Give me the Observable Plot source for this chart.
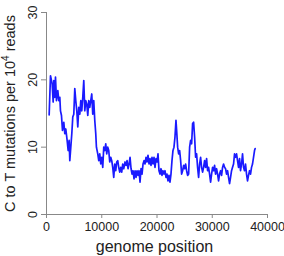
<!DOCTYPE html>
<html>
<head>
<meta charset="utf-8">
<script src="https://cdn.jsdelivr.net/npm/d3@7"></script>
<script src="https://cdn.jsdelivr.net/npm/@observablehq/plot@0.6"></script>
<style>
  html, body { margin: 0; padding: 0; background: #fff; }
  svg { font-family: "Liberation Sans", Arial, sans-serif; }
</style>
</head>
<body>
<div id="chart"></div>
<script>
const xTicks = [0, 10000, 20000, 30000, 40000];
const yTicks = [0, 10, 20, 30];
const xLabel = "genome position";
const yLabel = "C to T mutations per 10⁴ reads";

const position = [
  482, 723, 1024, 1205, 1325, 1506, 1627, 1807, 2048, 2229, 2410, 2530, 2711, 2892, 3133, 3313, 3494, 3735, 3916, 4096,
  4217, 4398, 4578, 4759, 4940, 5120, 5301, 5482, 5663, 5843, 6024, 6205, 6386, 6566, 6747, 6928, 7108, 7289, 7470, 7651,
  7831, 8012, 8193, 8373, 8554, 8735, 8916, 9036, 9277, 9458, 9638, 9819, 10000, 10181, 10361, 10542, 10723, 10904, 11084, 11265,
  11446, 11627, 11807, 11988, 12169, 12349, 12530, 12711, 12892, 13072, 13253, 13434, 13614, 13795, 13976, 14217, 14398, 14578, 14759, 14940,
  15120, 15301, 15482, 15663, 15843, 16024, 16205, 16386, 16566, 16747, 16928, 17108, 17289, 17470, 17651, 17831, 18012, 18193, 18373, 18554,
  18735, 18916, 19096, 19277, 19458, 19639, 19819, 20000, 20181, 20361, 20542, 20723, 20904, 21084, 21265, 21446, 21627, 21807, 21988, 22169,
  22349, 22530, 22711, 22892, 23072, 23253, 23434, 23554, 23735, 23916, 24096, 24277, 24458, 24639, 24819, 25000, 25181, 25361, 25542, 25723,
  25904, 26084, 26265, 26446, 26627, 26807, 26988, 27169, 27349, 27530, 27711, 27892, 28072, 28253, 28434, 28614, 28795, 28976, 29157, 29337,
  29518, 29699, 29880, 30060, 30241, 30422, 30602, 30783, 30964, 31145, 31325, 31506, 31687, 31867, 32048, 32229, 32410, 32590, 32771, 32952,
  33133, 33313, 33494, 33675, 33855, 34036, 34217, 34398, 34578, 34759, 34940, 35120, 35301, 35482, 35663, 35843, 36024, 36205, 36386, 36566,
  36747, 36928, 37108, 37289, 37470, 37651, 37771
];
const mutations = [
  14.8, 20.6, 19.4, 16.7, 19.9, 17.4, 20.4, 16.9, 18.4, 16.9, 17.4, 15.4, 14.7, 12.5, 13.7, 12.0, 12.7, 11.0, 9.5, 11.0,
  8.0, 10.0, 12.0, 14.5, 14.9, 18.7, 16.9, 15.4, 13.0, 15.9, 14.9, 16.9, 15.4, 17.4, 19.9, 15.4, 16.9, 16.4, 14.7, 16.9,
  15.9, 16.9, 17.9, 14.9, 16.9, 14.0, 12.0, 10.0, 9.0, 8.0, 9.0, 7.5, 8.5, 7.0, 10.0, 9.5, 10.5, 9.0, 10.0, 9.5,
  7.8, 8.5, 8.0, 7.0, 5.5, 7.5, 6.5, 7.8, 8.0, 7.0, 6.3, 7.0, 6.3, 7.5, 6.8, 7.8, 7.3, 8.0, 6.8, 7.5,
  8.5, 6.8, 6.0, 6.5, 5.3, 6.5, 5.5, 6.5, 5.8, 6.5, 4.8, 6.8, 6.0, 7.5, 8.0, 7.5, 8.5, 7.8, 8.8, 7.5,
  8.3, 7.3, 8.5, 7.5, 8.5, 7.0, 8.3, 7.8, 9.0, 6.5, 6.0, 6.8, 5.8, 6.5, 6.0, 6.5, 5.5, 6.0, 5.0, 5.8,
  4.8, 6.0, 8.0, 9.5, 10.0, 11.5, 14.0, 12.5, 10.0, 9.0, 9.5, 8.0, 6.0, 6.5, 7.3, 6.8, 7.5, 6.5, 5.8, 6.0,
  10.0, 11.0, 10.5, 13.5, 13.7, 11.5, 8.5, 9.0, 7.0, 5.5, 7.5, 8.5, 7.0, 6.3, 7.0, 8.0, 7.0, 8.3, 6.5, 7.0,
  6.0, 4.8, 6.0, 7.0, 6.5, 7.3, 6.0, 6.8, 6.0, 5.0, 6.0, 6.5, 5.8, 7.0, 7.5, 7.0, 6.8, 6.0, 6.5, 5.5,
  4.6, 5.5, 6.5, 7.0, 7.5, 9.0, 8.5, 9.0, 8.0, 7.0, 8.3, 6.5, 7.5, 9.0, 7.0, 6.5, 7.5, 6.0, 5.0, 5.8,
  6.5, 6.0, 7.0, 7.5, 8.5, 9.5, 9.8
];

const data = position.map((p, i) => ({position: p, value: mutations[i]}));
const axisColor = "#888";
const textColor = "#222";

const chart = Plot.plot({
  width: 284,
  height: 256,
  marginLeft: 46,
  marginRight: 17,
  marginTop: 12,
  marginBottom: 42,
  style: {fontFamily: '"Liberation Sans", Arial, sans-serif', background: "#fff", color: textColor},
  x: {domain: [0, 40000]},
  y: {domain: [0, 30]},
  marks: [
    Plot.axisX({ticks: xTicks, tickSize: 4, tickFormat: () => "", label: null, stroke: axisColor}),
    Plot.axisY({ticks: yTicks, tickSize: 5, tickFormat: () => "", label: null, stroke: axisColor}),
    Plot.ruleX([0], {y1: 0, y2: 30, stroke: axisColor}),
    Plot.ruleY([0], {x1: 0, x2: 40000, stroke: axisColor}),
    Plot.text(xTicks, {x: d => d, y: 0, text: d => String(d), dy: 8, lineAnchor: "top", fontSize: 12.5, fill: textColor}),
    Plot.text(yTicks, {x: 0, y: d => d, text: d => String(d), rotate: -90, dx: -10, textAnchor: "middle", lineAnchor: "bottom", fontSize: 12.5, fill: textColor}),
    Plot.text([xLabel], {frameAnchor: "bottom", dy: 32, dx: -2.5, lineAnchor: "middle", fontSize: 16, fill: textColor}),
    Plot.text([yLabel], {frameAnchor: "left", dx: -36, rotate: -90, lineAnchor: "middle", textAnchor: "middle", fontSize: 14.5, fill: textColor}),
    Plot.line(data, {x: "position", y: "value", stroke: "#1a1aff", strokeWidth: 1.7, strokeLinejoin: "round"})
  ]
});

// Render the superscript exponent of the y label as a real tspan
chart.querySelectorAll("text").forEach(t => {
  if (t.textContent === yLabel) {
    const parts = yLabel.split("⁴");
    t.textContent = "";
    const ns = "http://www.w3.org/2000/svg";
    const a = document.createElementNS(ns, "tspan"); a.textContent = parts[0];
    const s = document.createElementNS(ns, "tspan"); s.textContent = "4";
    s.setAttribute("font-size", "10"); s.setAttribute("dy", "-6");
    const b = document.createElementNS(ns, "tspan"); b.textContent = parts[1];
    b.setAttribute("dy", "6");
    t.append(a, s, b);
  }
});

document.getElementById("chart").append(chart);
</script>
</body>
</html>
